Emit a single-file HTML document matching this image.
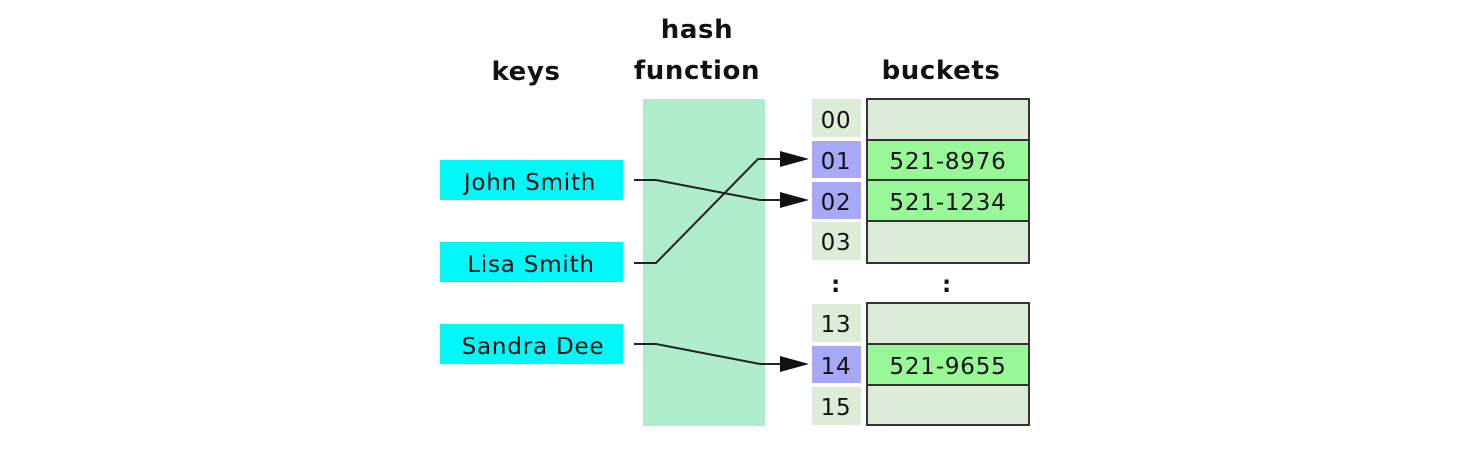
<!DOCTYPE html>
<html><head><style>html,body{margin:0;padding:0;background:#fff}svg{display:block}</style></head>
<body>
<svg width="1474" height="468" viewBox="0 0 1474 468" xmlns="http://www.w3.org/2000/svg" font-family="DejaVu Sans, Liberation Sans, sans-serif">
<g font-weight="bold" font-size="26" fill="#111" text-anchor="middle" letter-spacing="0.6">
<text x="526" y="80">keys</text>
<text x="697" y="38">hash</text>
<text x="697" y="79">function</text>
<text x="941" y="79">buckets</text>
</g>
<rect x="643" y="99" width="122" height="327" fill="#aeeccb"/>
<g fill="#00f8f8">
<rect x="440" y="160" width="183" height="40"/>
<rect x="440" y="242" width="183" height="40"/>
<rect x="440" y="324" width="183" height="40"/>
</g>
<g font-size="23" fill="#111" text-anchor="middle" letter-spacing="0.8">
<text x="530" y="190">John Smith</text>
<text x="531" y="272">Lisa Smith</text>
<text x="533" y="354">Sandra Dee</text>
</g>
<g>
<rect x="812" y="99" width="49" height="38" fill="#dcecd9"/>
<rect x="812" y="141" width="49" height="37" fill="#a8a8f8"/>
<rect x="812" y="182" width="49" height="37" fill="#a8a8f8"/>
<rect x="812" y="222" width="49" height="38" fill="#dcecd9"/>
<rect x="812" y="304" width="49" height="38" fill="#dcecd9"/>
<rect x="812" y="346" width="49" height="37" fill="#a8a8f8"/>
<rect x="812" y="387" width="49" height="38" fill="#dcecd9"/>
</g>
<g font-size="23" fill="#111" text-anchor="middle" letter-spacing="0.8">
<text x="836" y="128">00</text>
<text x="836" y="169">01</text>
<text x="836" y="210">02</text>
<text x="836" y="250">03</text>
<text x="836" y="292" font-weight="bold">:</text>
<text x="947" y="292" font-weight="bold">:</text>
<text x="836" y="332">13</text>
<text x="836" y="374">14</text>
<text x="836" y="415">15</text>
</g>
<g stroke="#333" stroke-width="2">
<rect x="867" y="99" width="162" height="41" fill="#dcecd9"/>
<rect x="867" y="140" width="162" height="40" fill="#98f898"/>
<rect x="867" y="180" width="162" height="41" fill="#98f898"/>
<rect x="867" y="221" width="162" height="42" fill="#dcecd9"/>
<rect x="867" y="303" width="162" height="41" fill="#dcecd9"/>
<rect x="867" y="344" width="162" height="41" fill="#98f898"/>
<rect x="867" y="385" width="162" height="40" fill="#dcecd9"/>
</g>
<g font-size="23" fill="#111" text-anchor="middle" letter-spacing="0.8">
<text x="948" y="169">521-8976</text>
<text x="948" y="210">521-1234</text>
<text x="948" y="374">521-9655</text>
</g>
<g fill="none" stroke="#222" stroke-width="2">
<polyline points="634,180 656,180 760,200 785,200"/>
<polyline points="634,263 656,263 758,159 785,159"/>
<polyline points="634,344 656,344 760,364 785,364"/>
</g>
<g fill="#111">
<polygon points="780,151 809,159 780,167"/>
<polygon points="780,192 809,200 780,208"/>
<polygon points="780,356 809,364 780,372"/>
</g>
</svg>
</body></html>
